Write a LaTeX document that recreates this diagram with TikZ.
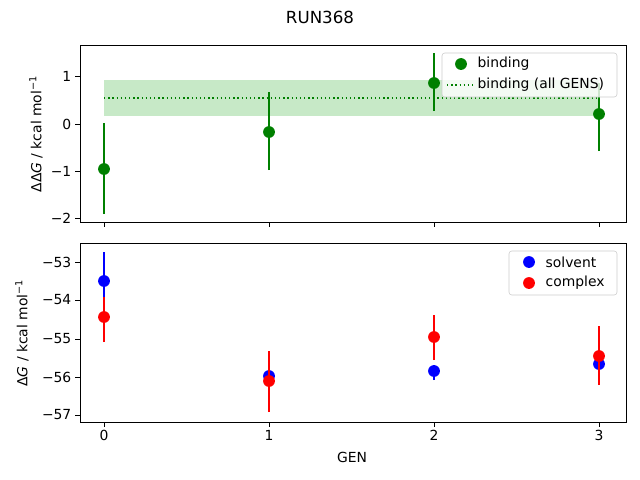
\documentclass[tikz,border=0pt]{standalone}
\usepackage{fontspec}
\setmainfont{DejaVu Sans}
\definecolor{mplgreen}{RGB}{0,128,0}
\tikzset{
  frame/.style={draw=black,line width=0.6pt},
  errbar/.style={line width=1.1pt},
  dot/.style={circle,inner sep=0pt,minimum size=8.5pt},
  tick/.style={line width=0.6pt},
  ticklab/.style={font=\fontsize{10}{12}\selectfont,inner sep=1pt}
}
\begin{document}
\begin{tikzpicture}[x=0.72pt,y=-0.72pt]
 \useasboundingbox (0,0) rectangle (640,480);
 \node (title) at (320,17) {\fontsize{12}{14}\selectfont RUN368};

 % top panel: binding
 \fill[green!60!black,opacity=0.22] (104,80) rectangle (599,116);
 \draw[mplgreen,dotted,line width=1pt] (104,98) -- (599,98);
 \foreach \x/\y/\lo/\hi in {104/169/214/123, 269/132/170/92, 434/83/111/53, 599/114/151/83}{
   \draw[errbar,mplgreen] (\x,\lo) -- (\x,\hi);
   \node[dot,fill=mplgreen] at (\x,\y) {};
 }
 \draw[frame] (80,45) rectangle (626,222);
 \foreach \v/\y in {1/76,0/124,{−1}/171,{−2}/218}{
   \draw[tick] (80,\y) -- (75,\y);
   \node[ticklab,anchor=east] at (73,\y) {\v};
 }
 \foreach \x in {104,269,434,599}
   \draw[tick] (\x,222) -- (\x,227);
 \node[rotate=90] (ylabtop) at (36,134) {ΔΔ\textit{G} / kcal mol\textsuperscript{−1}};
 \draw[draw=black!20,fill=white,fill opacity=0.8,rounded corners=2pt] (442,53) rectangle (617,97);
 \node[dot,fill=mplgreen] (legbind) at (461,64) {};
 \node[ticklab,anchor=west] at (476,64) {binding};
 \draw[mplgreen,dotted,line width=1pt] (447,85) -- (475,85);
 \node[ticklab,anchor=west] at (476,85) {binding (all GENS)};

 % bottom panel: solvent / complex
 \foreach \x/\y/\lo/\hi in {104/281/300/252, 269/376/381/371, 434/371/380/365, 599/364/370/358}{
   \draw[errbar,blue] (\x,\lo) -- (\x,\hi);
   \node[dot,fill=blue] at (\x,\y) {};
 }
 \foreach \x/\y/\lo/\hi in {104/317/342/297, 269/381/412/351, 434/337/360/315, 599/356/385/326}{
   \draw[errbar,red] (\x,\lo) -- (\x,\hi);
   \node[dot,fill=red] at (\x,\y) {};
 }
 \draw[frame] (80,243) rectangle (626,422);
 \foreach \v/\y in {{−53}/262,{−54}/300,{−55}/339,{−56}/377,{−57}/415}{
   \draw[tick] (80,\y) -- (75,\y);
   \node[ticklab,anchor=east] at (73,\y) {\v};
 }
 \foreach \v/\x in {0/104,1/269,2/434,3/599}{
   \draw[tick] (\x,422) -- (\x,427);
   \node[ticklab,anchor=north] at (\x,429) {\v};
 }
 \node (xlab) at (352,457) {GEN};
 \node[rotate=90] (ylabbot) at (22,333) {Δ\textit{G} / kcal mol\textsuperscript{−1}};
 \draw[draw=black!20,fill=white,fill opacity=0.8,rounded corners=2pt] (509,251) rectangle (617,295);
 \node[dot,fill=blue] (legsolv) at (529,262) {};
 \node[ticklab,anchor=west] at (544,262) {solvent};
 \node[dot,fill=red] (legcomp) at (529,283) {};
 \node[ticklab,anchor=west] at (544,283) {complex};
\end{tikzpicture}
\end{document}
